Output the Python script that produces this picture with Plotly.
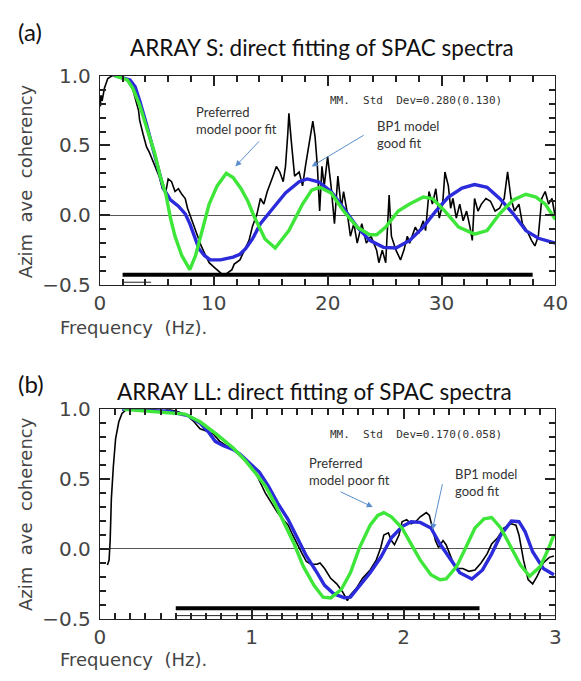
import plotly.graph_objects as go

# ---------------- data: panel (a) ARRAY S ----------------
fa_obs = [0.05, 0.1, 0.2, 0.4, 0.7, 1.1, 1.5, 2.0, 2.4, 2.9, 3.4, 3.5, 3.8, 4.1, 4.35, 4.6, 4.9, 5.2, 5.5, 5.8,
          6.0, 6.3, 6.6, 6.9, 7.2, 7.5, 7.7, 8.0, 8.3, 8.6, 8.9, 9.3, 9.6, 10.0, 10.4, 10.7, 11.1, 11.6, 11.8, 12.3,
          12.7, 13.1, 13.4, 13.8, 14.1, 14.4, 14.7, 14.9, 15.2, 15.5, 15.8, 16.1, 16.3, 16.5, 16.6, 16.8, 17.1, 17.5,
          17.8, 18.05, 18.5, 18.7, 18.9, 19.1, 19.3, 19.5, 19.7, 20.0, 20.3, 20.6, 20.9, 21.2, 21.4, 21.7, 22.0, 22.3,
          22.6, 23.0, 23.4, 23.8, 24.3, 24.5, 24.8, 25.1, 25.4, 25.6, 26.0, 26.4, 26.7, 27.0, 27.2, 27.7, 28.0, 28.4,
          28.6, 28.9, 29.2, 29.5, 29.8, 30.1, 30.3, 30.6, 30.8, 31.0, 31.3, 31.6, 31.9, 32.2, 32.5, 32.7, 32.9, 33.2,
          33.5, 33.9, 34.3, 34.7, 35.1, 35.5, 35.8, 36.1, 36.4, 36.8, 37.1, 37.5, 37.9, 38.2, 38.5, 38.8, 39.1, 39.4,
          39.7, 40.0]
va_obs = [0.78, 0.86, 0.82, 0.91, 0.98, 1.0, 1.0, 0.99, 0.97, 0.9, 0.75, 0.68, 0.58, 0.49, 0.45, 0.40, 0.35, 0.28, 0.19, 0.17,
          0.26, 0.24, 0.17, 0.19, 0.15, 0.12, 0.05, -0.02, -0.09, -0.15, -0.22, -0.29, -0.34, -0.37, -0.40, -0.42, -0.42, -0.39, -0.35, -0.32,
          -0.25, -0.18, -0.08, 0.01, 0.12, 0.08, 0.17, 0.21, 0.28, 0.35, 0.31, 0.24, 0.35, 0.58, 0.73, 0.54, 0.28, 0.31,
          0.21, 0.35, 0.58, 0.675, 0.56, 0.35, 0.03, 0.35, 0.21, 0.42, 0.21, -0.06, 0.28, 0.05, 0.17, 0.03, -0.15, -0.06,
          -0.20, -0.06, -0.20, -0.15, -0.25, -0.34, -0.25, -0.34, 0.145, -0.15, -0.25, -0.32, -0.25, -0.15, -0.20, -0.085, -0.13, -0.04,
          -0.11, 0.17, 0.08, 0.19, -0.02, 0.08, 0.31, 0.21, 0.05, 0.12, -0.02, 0.08, -0.04, 0.03, -0.085, -0.18, 0.12, 0.03,
          0.08, 0.12, 0.10, 0.03, 0.05, 0.12, 0.31, 0.12, 0.03, 0.08, -0.06, -0.11, -0.18, -0.22, -0.15, 0.12, 0.17, 0.08,
          0.12, -0.02]

fa_bp1 = [1.3, 2.65, 3.1, 3.5, 4.1, 4.6, 5.2, 5.6, 6.2, 6.9, 7.5, 7.9, 8.3, 8.7, 9.2, 9.7, 10.6, 11.7, 12.3, 12.8,
          13.4, 14.1, 15.2, 16.3, 17.5, 18.2, 19.2, 20.3, 21.4, 22.6, 23.7, 24.9, 26.0, 27.2, 28.4, 29.5, 30.6, 31.8,
          32.9, 34.0, 35.1, 36.3, 37.4, 38.5, 40.0]
va_bp1 = [1.0, 0.97, 0.92, 0.82, 0.65, 0.49, 0.31, 0.19, 0.11, 0.065, 0.01, -0.06, -0.15, -0.24, -0.29, -0.32, -0.32, -0.30, -0.28, -0.24,
          -0.17, -0.06, 0.05, 0.16, 0.24, 0.26, 0.24, 0.17, 0.05, -0.085, -0.18, -0.23, -0.235, -0.18, -0.085, 0.03, 0.13, 0.195,
          0.22, 0.20, 0.12, 0.01, -0.11, -0.165, -0.20]

fa_pref = [1.3, 2.4, 2.9, 3.5, 4.1, 4.8, 5.3, 5.8, 6.2, 6.6, 7.2, 7.9, 8.4, 9.0, 9.6, 10.3, 11.1, 11.7, 12.4, 13.0,
           13.5, 14.5, 15.4, 16.6, 17.8, 18.6, 19.3, 20.3, 21.4, 22.6, 23.7, 24.3, 25.1, 26.2, 27.2, 28.4, 29.2, 30.3,
           31.5, 32.9, 34.0, 35.1, 36.3, 37.4, 38.3, 39.1, 40.0]
va_pref = [1.0, 0.97, 0.91, 0.79, 0.63, 0.45, 0.28, 0.15, -0.02, -0.15, -0.29, -0.39, -0.29, -0.11, 0.08, 0.21, 0.30, 0.27, 0.19, 0.10,
           0.0, -0.17, -0.235, -0.11, 0.08, 0.18, 0.20, 0.16, 0.03, -0.085, -0.14, -0.14, -0.085, 0.03, 0.08, 0.13, 0.12, 0.03,
           -0.085, -0.135, -0.11, 0.01, 0.11, 0.15, 0.13, 0.08, -0.03]

bar_a_x = [2.0, 38.0]
bar_a_y = -0.426
sub_a_x = [2.0, 4.5]
sub_a_y = -0.48

# ---------------- data: panel (b) ARRAY LL ----------------
fb_obs = [0.05, 0.061, 0.068, 0.076, 0.089, 0.104, 0.125, 0.146, 0.178, 0.26, 0.35, 0.41, 0.45, 0.52, 0.58, 0.62, 0.66,
          0.71, 0.75, 0.79, 0.83, 0.88, 0.92, 0.96, 0.99, 1.02, 1.05, 1.09, 1.13, 1.17, 1.20, 1.24, 1.27, 1.30, 1.33,
          1.36, 1.39, 1.43, 1.45, 1.48, 1.52, 1.56, 1.60, 1.63, 1.65, 1.69, 1.73, 1.78, 1.82, 1.85, 1.87, 1.90, 1.92,
          1.94, 1.97, 1.99, 2.02, 2.05, 2.08, 2.11, 2.15, 2.17, 2.19, 2.21, 2.23, 2.26, 2.28, 2.32, 2.35, 2.39, 2.43,
          2.47, 2.51, 2.55, 2.58, 2.62, 2.66, 2.71, 2.74, 2.76, 2.79, 2.82, 2.85, 2.88, 2.92, 2.96, 2.99]
vb_obs = [-0.115, -0.08, 0.06, 0.36, 0.59, 0.79, 0.91, 0.97, 1.0, 1.0, 1.0, 0.98, 1.0, 0.98, 0.95, 0.91, 0.86,
          0.84, 0.82, 0.77, 0.74, 0.71, 0.67, 0.63, 0.61, 0.56, 0.49, 0.40, 0.33, 0.26, 0.22, 0.17, 0.10, 0.03, -0.03,
          -0.09, -0.11, -0.11, -0.10, -0.14, -0.21, -0.25, -0.31, -0.37, -0.33, -0.28, -0.21, -0.15, -0.08, 0.01, 0.10, 0.115, 0.06,
          0.03, 0.10, 0.195, 0.21, 0.18, 0.195, 0.23, 0.26, 0.24, 0.14, 0.06, 0.01, 0.06, 0.03, -0.08, -0.14, -0.14, -0.16,
          -0.15, -0.10, -0.035, 0.035, 0.08, 0.15, 0.18, 0.17, 0.10, -0.08, -0.22, -0.25, -0.195, -0.10, -0.06, -0.05]

fb_bp1 = [0.146, 0.30, 0.45, 0.58, 0.66, 0.72, 0.76, 0.81, 0.88, 0.92, 0.98, 1.05, 1.11, 1.17, 1.24, 1.30, 1.36, 1.43,
          1.48, 1.54, 1.61, 1.65, 1.71, 1.78, 1.85, 1.92, 1.99, 2.05, 2.11, 2.18, 2.24, 2.31, 2.37, 2.45, 2.52, 2.58,
          2.64, 2.71, 2.76, 2.80, 2.85, 2.92, 2.99]
vb_bp1 = [1.0, 1.0, 0.985, 0.955, 0.90, 0.83, 0.77, 0.74, 0.71, 0.68, 0.62, 0.55, 0.45, 0.33, 0.21, 0.08, -0.05, -0.17,
          -0.26, -0.32, -0.35, -0.345, -0.265, -0.17, -0.06, 0.08, 0.16, 0.195, 0.19, 0.15, 0.035, -0.08, -0.17, -0.215, -0.15, -0.035,
          0.10, 0.20, 0.195, 0.125, -0.02, -0.14, -0.185]

fb_pref = [0.157, 0.41, 0.56, 0.66, 0.77, 0.88, 0.96, 1.02, 1.09, 1.15, 1.21, 1.28, 1.34, 1.41, 1.47, 1.52, 1.59, 1.65,
           1.71, 1.78, 1.83, 1.87, 1.92, 1.99, 2.05, 2.11, 2.18, 2.24, 2.28, 2.35, 2.41, 2.47, 2.53, 2.58, 2.64, 2.71,
           2.77, 2.83, 2.90, 2.95, 2.99]
vb_pref = [1.0, 0.98, 0.965, 0.91, 0.82, 0.72, 0.63, 0.55, 0.45, 0.33, 0.195, 0.035, -0.125, -0.26, -0.345, -0.35, -0.29, -0.17,
           0.01, 0.17, 0.24, 0.26, 0.23, 0.15, 0.035, -0.08, -0.185, -0.22, -0.215, -0.125, 0.01, 0.15, 0.215, 0.225, 0.15, 0.01,
           -0.115, -0.195, -0.125, -0.01, 0.10]

bar_b_x = [0.5, 2.5]
bar_b_y = -0.425
sub_b_x = [0.5, 3.0]
sub_b_y = -0.477

y_range = [-0.5, 1.0]
y_ticks = [-0.5, 0.0, 0.5, 1.0]
y_ticktext = ["\u22120.5", "0.0", "0.5", "1.0"]
y_minor = [-0.4, -0.3, -0.2, -0.1, 0.1, 0.2, 0.3, 0.4, 0.6, 0.7, 0.8, 0.9]
xa_range = [0, 40]
xa_ticks = [0, 10, 20, 30, 40]
xa_minor = [2, 4, 6, 8, 12, 14, 16, 18, 22, 24, 26, 28, 32, 34, 36, 38]
xb_range = [0, 3]
xb_ticks = [0, 1, 2, 3]
xb_minor = [0.1, 0.2, 0.3, 0.4, 0.5, 0.6, 0.7, 0.8, 0.9, 1.1, 1.2, 1.3, 1.4, 1.5, 1.6, 1.7, 1.8, 1.9,
            2.1, 2.2, 2.3, 2.4, 2.5, 2.6, 2.7, 2.8, 2.9]

# ---------------- styling ----------------
W, H = 581, 681
BLACK = "#000000"
BLUE = "#2b2bdc"
GREEN = "#3ee63a"
AXC = "#222222"
ARROW = "#5b8fcc"
TICKFONT = dict(family="DejaVu Sans", size=20, color="#444444")
NOTEFONT = dict(family="Lato", size=13, color="#333333")
MONOFONT = dict(family="DejaVu Sans Mono", size=11, color="#333333")
MAJ, MIN = 10, 6


def py(p):
    return 1 - p / H


fig = go.Figure()

panels = [
    ("x", "y", fa_obs, va_obs, fa_bp1, va_bp1, fa_pref, va_pref, bar_a_x, bar_a_y, sub_a_x, sub_a_y, xa_range),
    ("x2", "y2", fb_obs, vb_obs, fb_bp1, vb_bp1, fb_pref, vb_pref, bar_b_x, bar_b_y, sub_b_x, sub_b_y, xb_range),
]
for xr, yr, fo, vo, fbp, vbp, fpr, vpr, bx, by, sx, sy, xrng in panels:
    fig.add_trace(go.Scatter(x=sx, y=[sy, sy], xaxis=xr, yaxis=yr, mode="lines",
                             line=dict(color="#222222", width=1), hoverinfo="skip"))
    fig.add_trace(go.Scatter(x=bx, y=[by, by], xaxis=xr, yaxis=yr, mode="lines",
                             line=dict(color=BLACK, width=4), hoverinfo="skip"))
    fig.add_trace(go.Scatter(x=fo, y=vo, xaxis=xr, yaxis=yr, mode="lines",
                             line=dict(color=BLACK, width=1.6)))
    fig.add_trace(go.Scatter(x=fbp, y=vbp, xaxis=xr, yaxis=yr, mode="lines",
                             line=dict(color=BLUE, width=3.4)))
    fig.add_trace(go.Scatter(x=fpr, y=vpr, xaxis=xr, yaxis=yr, mode="lines",
                             line=dict(color=GREEN, width=3.4)))

xdom = [97 / W, 568 / W]
common_x = dict(showline=True, linecolor=AXC, linewidth=1, mirror="ticks", ticks="inside",
                ticklen=MAJ, tickcolor=AXC, tickwidth=1.5, showgrid=False, zeroline=False,
                tickfont=TICKFONT, ticklabelstandoff=0)
common_y = dict(showline=True, linecolor=AXC, linewidth=1, mirror="ticks", ticks="inside",
                ticklen=MAJ, tickcolor=AXC, tickwidth=1.5, showgrid=False, zeroline=True,
                zerolinecolor="#555555", zerolinewidth=1, tickfont=TICKFONT,
                tickvals=y_ticks, ticktext=y_ticktext, range=y_range, ticklabelstandoff=4,
                minor=dict(tickvals=y_minor, ticklen=MIN, ticks="inside", tickcolor=AXC, tickwidth=1.5,
                           showgrid=False))

fig.update_layout(
    width=W, height=H, margin=dict(l=0, r=0, t=0, b=0),
    paper_bgcolor="white", plot_bgcolor="white", showlegend=False,
    xaxis=dict(domain=xdom, range=xa_range, tickvals=xa_ticks, anchor="y",
               minor=dict(tickvals=xa_minor, ticklen=MIN, ticks="inside", tickcolor=AXC, tickwidth=1.5,
                          showgrid=False), **common_x),
    yaxis=dict(domain=[py(283), py(66)], anchor="x", **common_y),
    xaxis2=dict(domain=xdom, range=xb_range, tickvals=xb_ticks, anchor="y2",
                minor=dict(tickvals=xb_minor, ticklen=MIN, ticks="inside", tickcolor=AXC, tickwidth=1.5,
                           showgrid=False), **common_x),
    yaxis2=dict(domain=[py(629), py(411.7)], anchor="x2", **common_y),
)

ann = []
# panel labels and titles
ann.append(dict(text="(a)", x=10 / W, y=py(20), xref="paper", yref="paper", xanchor="left", yanchor="middle",
                showarrow=False, font=dict(family="Lato", size=24, color="#111111")))
ann.append(dict(text="ARRAY S: direct fitting of SPAC spectra", x=327 / W, y=py(37), xref="paper", yref="paper",
                xanchor="center", yanchor="middle", showarrow=False,
                font=dict(family="Lato", size=22.5, color="#111111")))
ann.append(dict(text="(b)", x=10 / W, y=py(385), xref="paper", yref="paper", xanchor="left", yanchor="middle",
                showarrow=False, font=dict(family="Lato", size=24, color="#111111")))
ann.append(dict(text="ARRAY LL: direct fitting of SPAC spectra", x=319 / W, y=py(393), xref="paper", yref="paper",
                xanchor="center", yanchor="middle", showarrow=False,
                font=dict(family="Lato", size=22.5, color="#111111")))
# axis titles
for ycen, ylab in [(175, 327), (520, 671)]:
    ann.append(dict(text="Azim  ave  coherency", x=20 / W, y=py(ycen), xref="paper", yref="paper",
                    xanchor="center", yanchor="middle", textangle=-90, showarrow=False,
                    font=dict(family="DejaVu Sans", size=18, color="#444444")))
    ann.append(dict(text="Frequency  (Hz).", x=54 / W, y=py(ylab), xref="paper", yref="paper",
                    xanchor="left", yanchor="middle", showarrow=False,
                    font=dict(family="DejaVu Sans", size=18, color="#444444")))

# panel (a) notes
ann.append(dict(text="MM.&nbsp;&nbsp;Std&nbsp;&nbsp;Dev=0.280(0.130)", x=20.0, y=0.82, xref="x", yref="y",
                xanchor="left", yanchor="middle", showarrow=False, font=MONOFONT))
ann.append(dict(text="Preferred<br>model poor fit", x=8.3, y=0.68, xref="x", yref="y", xanchor="left",
                yanchor="middle", align="left", showarrow=False, font=NOTEFONT))
ann.append(dict(text="", x=11.9, y=0.35, ax=14.1, ay=0.54, xref="x", yref="y", axref="x", ayref="y",
                showarrow=True, arrowhead=2, arrowsize=1.2, arrowwidth=1, arrowcolor=ARROW))
ann.append(dict(text="BP1 model<br>good fit", x=24.15, y=0.58, xref="x", yref="y", xanchor="left",
                yanchor="middle", align="left", showarrow=False, font=NOTEFONT))
ann.append(dict(text="", x=18.6, y=0.35, ax=23.3, ay=0.58, xref="x", yref="y", axref="x", ayref="y",
                showarrow=True, arrowhead=2, arrowsize=1.2, arrowwidth=1, arrowcolor=ARROW))

# panel (b) notes
ann.append(dict(text="MM.&nbsp;&nbsp;Std&nbsp;&nbsp;Dev=0.170(0.058)", x=1.50, y=0.82, xref="x2", yref="y2",
                xanchor="left", yanchor="middle", showarrow=False, font=MONOFONT))
ann.append(dict(text="Preferred<br>model poor fit", x=1.365, y=0.554, xref="x2", yref="y2", xanchor="left",
                yanchor="middle", align="left", showarrow=False, font=NOTEFONT))
ann.append(dict(text="", x=1.797, y=0.30, ax=1.575, ay=0.414, xref="x2", yref="y2", axref="x2", ayref="y2",
                showarrow=True, arrowhead=2, arrowsize=1.2, arrowwidth=1, arrowcolor=ARROW))
ann.append(dict(text="BP1 model<br>good fit", x=2.324, y=0.474, xref="x2", yref="y2", xanchor="left",
                yanchor="middle", align="left", showarrow=False, font=NOTEFONT))
ann.append(dict(text="", x=2.19, y=0.138, ax=2.258, ay=0.474, xref="x2", yref="y2", axref="x2", ayref="y2",
                showarrow=True, arrowhead=2, arrowsize=1.2, arrowwidth=1, arrowcolor=ARROW))

fig.update_layout(annotations=ann)
fig.write_html("out.html")
